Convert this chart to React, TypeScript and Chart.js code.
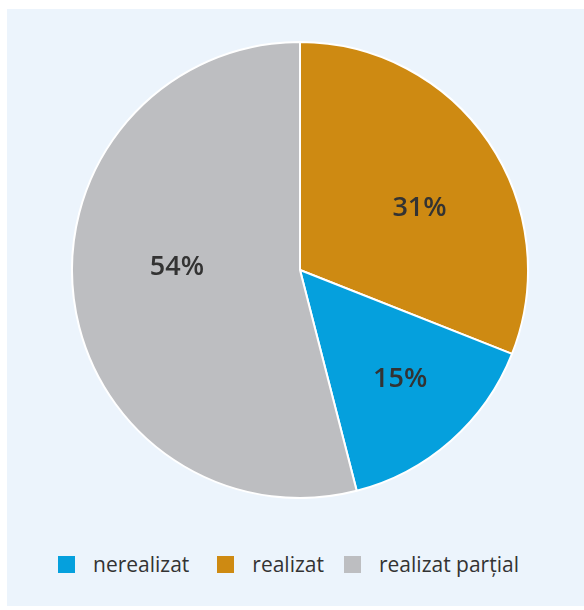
import React, { useEffect, useRef } from "react";
import { Chart, registerables } from "chart.js";

Chart.register(...registerables);

const categories = ["realizat", "nerealizat", "realizat parțial"];
const values = [31, 15, 54];
const colors = ["#CE8A12", "#05A0DD", "#BDBEC1"];
const legendOrder = [1, 0, 2];

const labelPlugin = {
  id: "sliceLabels",
  afterDatasetsDraw(chart: any) {
    const ctx = chart.ctx;
    const meta = chart.getDatasetMeta(0);
    const total = values.reduce((a, b) => a + b, 0);
    const factors = [0.59, 0.65, 0.54];
    const angShift = [0.12, -0.02, 0.15];
    ctx.save();
    ctx.font = "600 27px 'Open Sans'";
    ctx.fillStyle = "#333333";
    ctx.textAlign = "center";
    ctx.textBaseline = "middle";
    meta.data.forEach((arc: any, i: number) => {
      const mid = (arc.startAngle + arc.endAngle) / 2 + angShift[i];
      const r = arc.outerRadius * factors[i];
      const x = arc.x + Math.cos(mid) * r;
      const y = arc.y + Math.sin(mid) * r;
      ctx.fillText(Math.round((values[i] / total) * 100) + "%", x, y);
    });
    ctx.restore();
  },
};

export default function App() {
  const ref = useRef<HTMLCanvasElement>(null);
  useEffect(() => {
    const chart = new Chart(ref.current!, {
      type: "pie",
      data: {
        labels: categories,
        datasets: [
          {
            data: values,
            backgroundColor: colors,
            borderColor: "#ffffff",
            borderWidth: 2,
          },
        ],
      },
      options: {
        animation: false,
        responsive: false,
        maintainAspectRatio: false,
        layout: { padding: 0 },
        plugins: {
          legend: { display: false },
          tooltip: { enabled: false },
        },
      },
      plugins: [labelPlugin],
    });
    return () => chart.destroy();
  }, []);

  const gaps = [28, 20, 0];
  return (
    <div
      style={{
        position: "absolute",
        left: 7,
        top: 9,
        width: 577,
        height: 597,
        background: "#ECF4FC",
      }}
    >
      <canvas
        ref={ref}
        width={458}
        height={458}
        style={{ position: "absolute", left: 64, top: 32, width: 458, height: 458 }}
      />
      <div
        style={{
          position: "absolute",
          left: 51,
          top: 535,
          display: "flex",
          alignItems: "center",
          fontFamily: "'Open Sans'",
          fontSize: 21,
          color: "#333333",
          height: 40,
        }}
      >
        {legendOrder.map((i, k) => (
          <div key={i} style={{ display: "flex", alignItems: "center", marginRight: gaps[k] }}>
            <span
              style={{
                display: "inline-block",
                width: 17,
                height: 17,
                background: colors[i],
                marginRight: 18,
              }}
            />
            <span>{categories[i]}</span>
          </div>
        ))}
      </div>
    </div>
  );
}
